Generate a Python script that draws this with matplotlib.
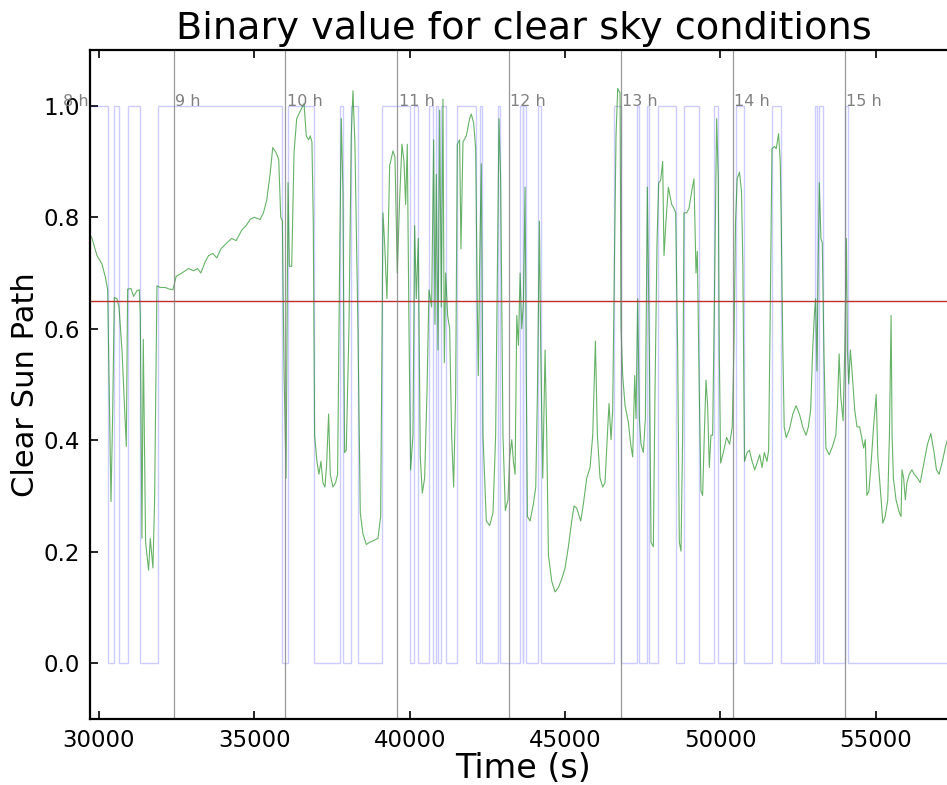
import numpy as np
import matplotlib
matplotlib.use("Agg")
import matplotlib.pyplot as plt

# clear sun path index (time in s, value)
t_green = [29700, 29776, 29937, 30097, 30204, 30279, 30333, 30387, 30440, 30494, 30579, 30644, 30740, 30879,
           30922, 31029, 31115, 31222, 31297, 31329, 31383, 31426, 31500, 31597, 31650, 31736, 31790, 31865,
           31972, 32132, 32271, 32379, 32486, 32668, 32882, 33043, 33171, 33278, 33417, 33525, 33664, 33792,
           33921, 34114, 34274, 34413, 34596, 34735, 34863, 34992, 35185, 35292, 35399, 35506, 35592, 35699,
           35784, 35849, 35902, 35956, 36020, 36084, 36127, 36202, 36277, 36363, 36491, 36598, 36671, 36746,
           36800, 36853, 36896, 36939, 37014, 37078, 37143, 37207, 37272, 37325, 37390, 37443, 37529, 37615,
           37679, 37744, 37797, 37851, 37905, 37958, 38044, 38119, 38173, 38237, 38334, 38409, 38495, 38602,
           38709, 38838, 38978, 39064, 39139, 39192, 39267, 39353, 39461, 39525, 39600, 39675, 39750, 39815,
           39868, 39922, 39976, 40029, 40104, 40158, 40212, 40276, 40340, 40405, 40480, 40555, 40619, 40705,
           40770, 40812, 40855, 40909, 40963, 41016, 41070, 41113, 41156, 41220, 41285, 41349, 41413, 41478,
           41531, 41606, 41649, 41714, 41821, 41928, 41982, 42057, 42122, 42175, 42207, 42250, 42304, 42358,
           42465, 42572, 42680, 42765, 42808, 42873, 42926, 43001, 43077, 43162, 43216, 43284, 43337, 43391,
           43445, 43498, 43552, 43605, 43659, 43713, 43745, 43788, 43873, 43981, 44056, 44109, 44174, 44216,
           44281, 44356, 44409, 44463, 44570, 44677, 44785, 44892, 44999, 45106, 45213, 45288, 45374, 45503,
           45589, 45696, 45803, 45889, 45975, 46039, 46125, 46210, 46285, 46360, 46414, 46478, 46532, 46586,
           46639, 46693, 46768, 46800, 46854, 46929, 47036, 47111, 47175, 47240, 47282, 47336, 47390, 47443,
           47518, 47583, 47647, 47711, 47765, 47840, 47893, 47958, 48011, 48076, 48140, 48183, 48247, 48322,
           48429, 48504, 48558, 48622, 48676, 48730, 48783, 48826, 48912, 48987, 49073, 49148, 49212, 49255,
           49319, 49373, 49426, 49480, 49534, 49587, 49641, 49694, 49748, 49802, 49877, 49930, 49962, 50005,
           50091, 50198, 50294, 50379, 50432, 50485, 50538, 50613, 50677, 50720, 50773, 50858, 50933, 51018,
           51103, 51177, 51263, 51337, 51412, 51497, 51550, 51603, 51657, 51742, 51795, 51870, 51923, 51955,
           52008, 52051, 52115, 52221, 52328, 52434, 52541, 52647, 52754, 52828, 52903, 52967, 53020, 53063,
           53105, 53148, 53180, 53233, 53276, 53329, 53393, 53499, 53606, 53712, 53765, 53819, 53872, 53946,
           54000, 54053, 54085, 54128, 54181, 54234, 54319, 54394, 54479, 54532, 54607, 54660, 54713, 54777,
           54852, 54926, 55011, 55065, 55118, 55171, 55224, 55299, 55384, 55437, 55491, 55523, 55565, 55650,
           55757, 55810, 55842, 55895, 55949, 56002, 56076, 56162, 56236, 56343, 56428, 56556, 56662, 56769,
           56875, 56950, 57035, 57142, 57248, 57354, 57460, 57600]
v_green = [0.770, 0.762, 0.731, 0.716, 0.693, 0.670, 0.485, 0.290, 0.447, 0.656, 0.654, 0.639, 0.562, 0.389,
           0.671, 0.672, 0.658, 0.668, 0.670, 0.624, 0.224, 0.581, 0.217, 0.167, 0.224, 0.171, 0.293, 0.677,
           0.674, 0.674, 0.671, 0.670, 0.694, 0.700, 0.708, 0.704, 0.708, 0.700, 0.720, 0.731, 0.735, 0.727,
           0.743, 0.754, 0.762, 0.758, 0.777, 0.785, 0.796, 0.800, 0.796, 0.808, 0.831, 0.877, 0.925, 0.916,
           0.904, 0.800, 0.793, 0.524, 0.332, 0.862, 0.712, 0.712, 0.916, 0.977, 0.992, 1.004, 0.946, 0.939,
           0.946, 0.935, 0.793, 0.409, 0.362, 0.339, 0.362, 0.324, 0.316, 0.355, 0.447, 0.339, 0.316, 0.324,
           0.339, 0.716, 0.977, 0.846, 0.378, 0.382, 0.600, 0.946, 1.027, 0.931, 0.600, 0.270, 0.232, 0.213,
           0.217, 0.220, 0.224, 0.263, 0.808, 0.754, 0.654, 0.892, 0.919, 0.908, 0.700, 0.831, 0.931, 0.900,
           0.823, 0.931, 0.600, 0.347, 0.409, 0.785, 0.654, 0.762, 0.370, 0.305, 0.332, 0.485, 0.670, 0.639,
           0.939, 0.608, 0.877, 0.562, 0.992, 0.639, 1.012, 0.539, 0.700, 0.624, 0.600, 0.409, 0.316, 0.485,
           0.931, 0.939, 0.743, 0.935, 0.946, 0.977, 0.985, 0.969, 0.923, 0.639, 0.516, 0.716, 0.896, 0.409,
           0.255, 0.247, 0.270, 0.409, 0.639, 0.977, 0.869, 0.409, 0.274, 0.293, 0.370, 0.401, 0.362, 0.339,
           0.624, 0.570, 0.700, 0.600, 0.647, 0.854, 0.562, 0.263, 0.255, 0.286, 0.316, 0.485, 0.793, 0.562,
           0.332, 0.562, 0.409, 0.194, 0.147, 0.128, 0.136, 0.151, 0.171, 0.209, 0.255, 0.282, 0.278, 0.255,
           0.286, 0.332, 0.351, 0.409, 0.578, 0.409, 0.332, 0.316, 0.324, 0.409, 0.466, 0.401, 0.455, 0.716,
           0.946, 1.031, 1.023, 0.600, 0.516, 0.462, 0.432, 0.393, 0.370, 0.516, 0.439, 0.654, 0.439, 0.393,
           0.378, 0.439, 0.854, 0.562, 0.217, 0.209, 0.485, 0.754, 0.862, 0.866, 0.900, 0.731, 0.793, 0.854,
           0.823, 0.816, 0.808, 0.562, 0.217, 0.201, 0.409, 0.808, 0.808, 0.816, 0.846, 0.869, 0.700, 0.739,
           0.485, 0.309, 0.301, 0.409, 0.508, 0.462, 0.351, 0.409, 0.409, 0.639, 0.977, 0.869, 0.562, 0.359,
           0.378, 0.405, 0.393, 0.424, 0.562, 0.793, 0.869, 0.881, 0.846, 0.716, 0.362, 0.378, 0.382, 0.362,
           0.347, 0.359, 0.374, 0.351, 0.378, 0.362, 0.382, 0.639, 0.923, 0.927, 0.923, 0.950, 0.900, 0.793,
           0.562, 0.424, 0.405, 0.420, 0.447, 0.462, 0.447, 0.424, 0.409, 0.424, 0.455, 0.562, 0.624, 0.654,
           0.524, 0.731, 0.862, 0.762, 0.754, 0.562, 0.386, 0.374, 0.389, 0.409, 0.462, 0.555, 0.478, 0.435,
           0.562, 0.762, 0.562, 0.501, 0.562, 0.524, 0.455, 0.424, 0.424, 0.409, 0.386, 0.401, 0.301, 0.309,
           0.362, 0.424, 0.482, 0.370, 0.332, 0.293, 0.251, 0.263, 0.293, 0.409, 0.624, 0.409, 0.332, 0.293,
           0.270, 0.263, 0.347, 0.332, 0.293, 0.324, 0.339, 0.347, 0.339, 0.332, 0.324, 0.362, 0.393, 0.412,
           0.378, 0.347, 0.339, 0.362, 0.390, 0.410, 0.380, 0.360]

# binary clear-sky flag: intervals where it is 1
clear_on = [29700, 30494, 30922, 31897, 36084, 37744, 38119, 39117, 40137, 40619, 40855, 40995, 41521,
            42250, 42840, 43552, 43659, 44141, 46586, 47304, 47625, 47979, 48815, 49791, 50485, 51657,
            53041, 53169, 54021]
clear_off = [30279, 30644, 31308, 35902, 36917, 37860, 38334, 39997, 40276, 40748, 40909, 41177, 42143,
             42315, 42916, 43638, 43734, 44227, 46790, 47390, 47711, 48569, 49308, 49930, 50751, 51944,
             53094, 53307, 54096]

hours = [8, 9, 10, 11, 12, 13, 14, 15]
threshold = 0.65

# build the step line for the binary flag
bt = [clear_on[0]]
bv = [1]
for i, (a, b) in enumerate(zip(clear_on, clear_off)):
    if i > 0:
        bt += [a, a]
        bv += [0, 1]
    bt += [b, b]
    bv += [1, 0]
bt.append(57700)
bv.append(0)

fig = plt.figure(figsize=(9.47, 7.85), dpi=100)
ax = fig.add_axes([0.095, 0.0841, 0.9155, 0.8522])

ax.plot(bt, bv, color='blue', alpha=0.2, lw=1.0)
ax.plot(t_green, v_green, color='green', alpha=0.6, lw=0.8)
ax.axhline(threshold, color='#c0302a', lw=1.0)

for h in hours:
    ax.axvline(h * 3600, color='gray', lw=0.9, alpha=0.8)
    ax.text(h * 3600 + 40, 0.995, '%d h' % h, color='gray', fontsize=11.5,
            ha='left', va='bottom', clip_on=False)

ax.set_xlim(29710, 57610)
ax.set_ylim(-0.1, 1.1)
ax.set_xticks([30000, 35000, 40000, 45000, 50000, 55000])
ax.set_yticks([0.0, 0.2, 0.4, 0.6, 0.8, 1.0])
ax.tick_params(direction='in', length=6, width=1.2, labelsize=16.5, pad=7,
               top=True, right=True)
for sp in ax.spines.values():
    sp.set_linewidth(1.6)

ax.set_xlabel('Time (s)', fontsize=24, labelpad=0)
ax.set_ylabel('Clear Sun Path', fontsize=22, labelpad=3)
ax.set_title('Binary value for clear sky conditions', fontsize=27.5, pad=8)

fig.savefig('out.png', dpi=100)
